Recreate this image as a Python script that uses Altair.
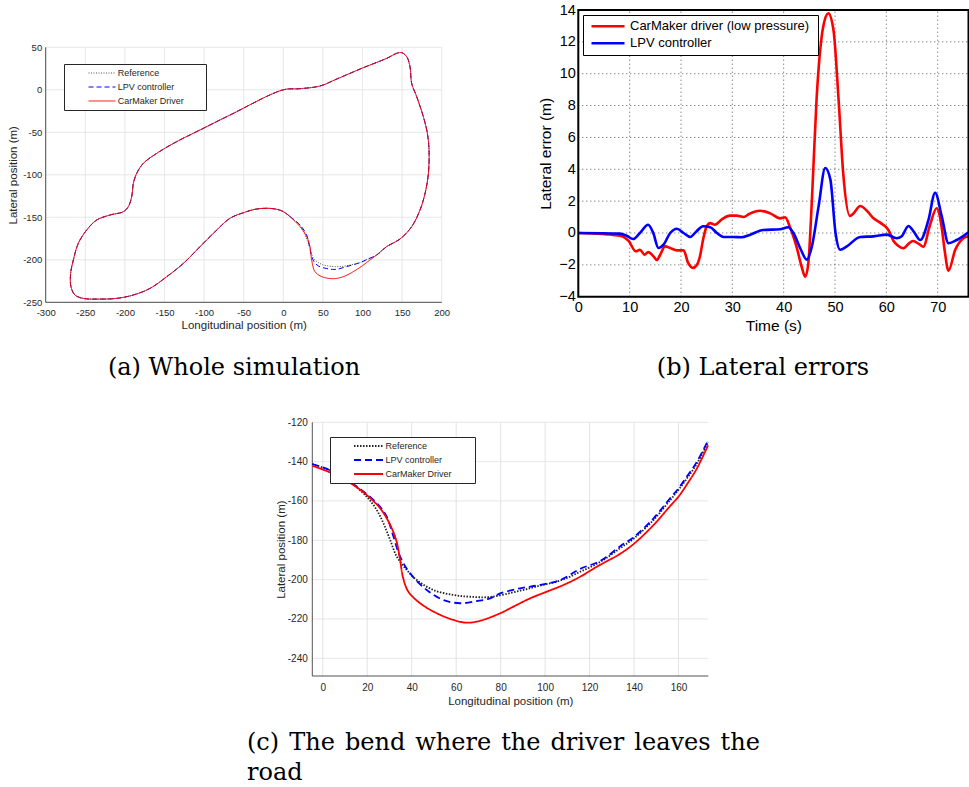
import altair as alt
import pandas as pd

SERIES = ["Reference", "LPV controller", "CarMaker Driver"]

# ---------------- Panel (a): whole simulation ----------------
TRACK_X = [130.5, 147.4, 162.1, 172.6, 179.0, 183.2, 184.0, 181.9, 176.8, 168.4, 162.1, 160.0,
           155.8, 149.5, 143.2, 130.5, 101.0, 67.4, 46.4, 21.0, 0.0, -67.3, -105.2, -134.6,
           -159.9, -176.7, -185.1, -189.3, -191.4, -195.7, -202.0, -218.8, -235.6, -248.3,
           -258.8, -265.1, -268.5, -268.1, -263.0, -252.5, -231.4, -210.4, -189.3, -168.3,
           -147.2, -126.2, -105.2, -88.3, -67.3, -50.0, -35.0, -20.0, -8.4, 0.0]
TRACK_Y = [-184.5, -175.5, -161.0, -141.4, -121.8, -98.3, -70.8, -51.2, -31.6, -8.0, 7.6, 27.0,
           39.0, 43.7, 42.9, 37.0, 26.0, 12.6, 4.5, 1.3, 0.0, -29.7, -47.3, -61.0,
           -74.8, -86.5, -98.3, -110.0, -125.7, -137.5, -143.4, -147.3, -153.2, -165.0,
           -180.6, -200.3, -215.9, -231.6, -241.4, -245.4, -246.2, -245.4, -241.4, -233.6,
           -219.9, -204.2, -184.6, -168.9, -151.2, -144.5, -140.5, -139.4, -140.6, -143.3]

A_REF_X = [8.5, 21.1, 25.3, 31.6, 35.0, 38.0, 43.0, 48.5, 57.0, 67.4, 76.0, 84.2, 96.9, 106.0, 117.9]
A_REF_Y = [-149.2, -159.5, -166.9, -180.6, -191.0, -198.2, -202.5, -205.3, -207.3, -208.1, -207.5, -206.1, -203.3, -199.5, -194.3]
A_LPV_X = [8.5, 21.1, 29.5, 33.0, 35.8, 39.0, 44.3, 54.8, 62.0, 67.4, 80.0, 96.9, 106.0, 117.9]
A_LPV_Y = [-149.2, -159.0, -170.8, -184.0, -196.0, -202.5, -207.3, -210.3, -211.3, -211.2, -208.0, -203.3, -199.5, -194.3]
A_CM_X = [8.5, 21.1, 29.5, 33.7, 35.8, 40.0, 48.5, 63.2, 75.8, 88.5, 101.1, 109.0, 117.9]
A_CM_Y = [-149.2, -161.0, -172.7, -184.5, -200.2, -213.9, -219.8, -222.2, -219.8, -213.9, -206.1, -200.5, -194.3]

# ---------------- Panel (b): lateral errors ----------------
B_CM_T = [0, 3.6, 6.2, 8.5, 9.8, 11.2, 12.0, 12.9, 13.6, 14.6, 15.3, 15.9, 16.9, 17.9, 19.2, 20.5,
          21.4, 22.3, 23.0, 23.7, 24.3, 25.0, 25.7, 26.6, 27.9, 29.5, 30.8, 32.2, 33.3, 35.4, 37.4,
          39.3, 40.3, 41.2, 42.5, 43.5, 44.2, 44.8, 45.5, 46.4, 47.7, 48.7, 49.7, 50.7, 51.6, 52.9,
          53.6, 54.9, 56.2, 57.5, 58.8, 60.4, 61.4, 62.3, 63.3, 64.6, 65.2, 66.4, 67.2, 68.5, 69.8,
          70.8, 71.4, 72.1, 73.4, 75.0, 76.0]
B_CM_E = [0, -0.04, -0.1, -0.2, -0.5, -1.15, -1.05, -1.36, -1.2, -1.45, -1.7, -1.4, -0.84, -0.94, -1.09, -1.09,
          -1.88, -2.19, -2.05, -1.46, -0.42, 0.42, 0.62, 0.52, 0.84, 1.09, 1.09, 1.0, 1.2, 1.4, 1.23,
          0.92, 0.98, 0.39, -0.86, -2.12, -2.75, -1.91, 2.07, 8.35, 12.95, 13.79, 12.74, 8.35, 3.74, 1.07,
          1.23, 1.69, 1.4, 0.92, 0.65, 0.19, -0.5, -0.8, -0.96, -0.6, -0.5, -0.7, -0.86, 0.5, 1.55,
          0.3, -1.2, -2.37, -1.07, -0.33, -0.2]
B_LPV_T = [0, 8.1, 9.4, 10.7, 12.0, 13.6, 14.6, 15.6, 16.6, 17.9, 19.2, 20.5, 21.8, 23.0, 24.3, 25.7,
           27.0, 28.3, 30.2, 31.8, 33.4, 36.0, 39.3, 40.9, 41.9, 43.2, 44.5, 45.5, 46.8, 48.1, 49.1,
           50.1, 51.0, 52.3, 54.9, 57.5, 60.1, 62.0, 63.0, 64.3, 65.3, 66.6, 68.2, 69.5, 70.8, 72.1,
           73.7, 76.0]
B_LPV_E = [0, -0.04, -0.17, -0.38, 0, 0.52, 0, -0.94, -0.73, 0, 0.27, 0, -0.25, 0.1, 0.42, 0.36,
           0, -0.25, -0.25, -0.27, -0.12, 0.19, 0.23, 0.36, 0, -0.94, -1.67, -0.84, 1.67, 4.08, 3.35,
           0, -1.05, -0.84, -0.25, -0.21, -0.1, -0.33, -0.2, 0.44, 0.1, -0.44, 0.82, 2.53, 1.03, -0.64,
           -0.44, 0.05]
B_SERIES = ["CarMaker driver (low pressure)", "LPV controller"]

# ---------------- Panel (c): the bend ----------------
C_REF_X = [-4.7, 5, 12.3, 19.8, 24.3, 27.3, 30.3, 33.3, 37.8, 42.3, 49.8, 58.8, 66.3, 75.3, 88.8, 97.8,
           106.8, 115.8, 124.8, 133.8, 140, 148.8, 156.3, 160, 164, 168.3, 173.3]
C_REF_Y = [-141.2, -145.2, -150.3, -157.9, -164.6, -171.4, -179.8, -188.3, -195.1, -200.2, -205.3,
           -207.8, -208.7, -208.8, -205.6, -203.0, -200.5, -196.0, -191.0, -184.0, -179.0, -169.6,
           -159.5, -154.4, -148.2, -141.0, -130.0]
C_LPV_X = [-4.7, 5, 12.3, 19.8, 25.8, 28.8, 31.8, 34.8, 39.3, 46.8, 54.3, 61.8, 69.3, 75.3, 79.8, 88.8,
           97.8, 106.8, 115.8, 124.8, 133.8, 140, 148.8, 156.3, 160, 164, 168.3, 173.3]
C_LPV_Y = [-141.2, -145.2, -150.3, -156.5, -163.0, -168.0, -178.1, -188.3, -196.8, -205.3, -210.4,
           -212.0, -210.9, -209.5, -207.0, -204.4, -202.7, -200.2, -194.5, -190.5, -183.0, -178.3,
           -168.8, -158.5, -153.6, -147.2, -140.0, -129.2]
C_CM_X = [-4.7, 5, 13.8, 19.8, 25.8, 30.0, 33.0, 34.8, 36, 38.5, 43.8, 51.3, 58.8, 64.8, 70.8, 79.8,
          85.8, 93.3, 100.8, 108.3, 115.8, 123.3, 133.8, 140, 148.8, 156.3, 160, 164, 168.3, 173.3]
C_CM_Y = [-142.1, -146.3, -151.9, -157.0, -163.7, -171.4, -179.8, -190.0, -198.5, -206.1, -212.0,
          -217.1, -220.5, -221.9, -220.9, -217.1, -213.7, -209.5, -206.1, -202.7, -198.5, -193.4,
          -186.8, -181.7, -172.2, -162.5, -157.8, -151.2, -143.4, -131.7]

CAPTION_A = "(a) Whole simulation"
CAPTION_B = "(b) Lateral errors"
CAPTION_C = ["(c) The bend where the driver leaves the", "road"]

W, H = 969, 787
SANS = "Liberation Sans"
GRAY = "#262626"
ONE = pd.DataFrame({"k": [0]})


def long_df(series_dict, xname="x", yname="y"):
    rows = []
    for name, (xs, ys) in series_dict.items():
        for i, (x, y) in enumerate(zip(xs, ys)):
            rows.append({"series": name, xname: x, yname: y, "i": i})
    return pd.DataFrame(rows)


def close_loop(bx, by):
    return bx + TRACK_X + [bx[0]], by + TRACK_Y + [by[0]]


def sc(domain, rng):
    return alt.Scale(domain=domain, range=rng, nice=False, zero=False)


def grid_units(xvals, yvals, xdom, xr, ydom, yr, color, dash, width):
    gx = alt.Chart(pd.DataFrame({"v": xvals})).mark_rule(color=color, strokeWidth=width, strokeDash=dash).encode(
        x=alt.X("v:Q", scale=sc(xdom, xr), axis=None),
        y=alt.Y(datum=ydom[0], scale=sc(ydom, yr), axis=None),
        y2=alt.Y2(datum=ydom[1]),
    )
    gy = alt.Chart(pd.DataFrame({"v": yvals})).mark_rule(color=color, strokeWidth=width, strokeDash=dash).encode(
        y=alt.Y("v:Q", scale=sc(ydom, yr), axis=None),
        x=alt.X(datum=xdom[0], scale=sc(xdom, xr), axis=None),
        x2=alt.X2(datum=xdom[1]),
    )
    return [gx, gy]


def domain_units(xdom, xr, ydom, yr, color, width):
    bottom = alt.Chart(ONE).mark_rule(color=color, strokeWidth=width).encode(
        x=alt.X(datum=xdom[0], scale=sc(xdom, xr), axis=None), x2=alt.X2(datum=xdom[1]),
        y=alt.Y(datum=ydom[0], scale=sc(ydom, yr), axis=None))
    left = alt.Chart(ONE).mark_rule(color=color, strokeWidth=width).encode(
        y=alt.Y(datum=ydom[0], scale=sc(ydom, yr), axis=None), y2=alt.Y2(datum=ydom[1]),
        x=alt.X(datum=xdom[0], scale=sc(xdom, xr), axis=None))
    return [bottom, left]


def sans_axis(orient, offset, values, title, lab_size, title_size, color, lab_pad, title_pad, hyphen=True):
    kw = dict(orient=orient, offset=offset, values=values, title=title, grid=False, ticks=False,
              domain=False, labelFont=SANS, labelFontSize=lab_size, labelColor=color,
              labelPadding=lab_pad, labelFlush=False, labelOverlap=False, labelBound=False,
              titleFont=SANS, titleFontSize=title_size, titleFontWeight="normal", titleColor=color,
              titlePadding=title_pad)
    if hyphen:
        kw["labelExpr"] = "'' + datum.value"
    return alt.Axis(**kw)


def legend(x, y, pad, length, sw, sym_off, lab_off, size, color, row_h, extra_title, extra_size, extra_pad):
    return alt.Legend(orient="none", legendX=x, legendY=y, title=extra_title, titleOrient="right",
                      titleOpacity=0, titleFontSize=extra_size, titleFont=SANS, titlePadding=extra_pad,
                      padding=pad, symbolType="stroke", symbolSize=length * length, symbolStrokeWidth=sw,
                      symbolOffset=sym_off, labelOffset=lab_off, labelFont=SANS, labelFontSize=size,
                      labelColor=color, labelLimit=400, rowPadding=0, clipHeight=row_h,
                      strokeColor=color, fillColor="white")


units = []

# ---------------- Panel (a) ----------------
AXD, AXR = [-300, 200], [45.7, 441.7]
AYD, AYR = [-250, 50], [302.3, 47.3]
units += grid_units(list(range(-300, 201, 50)), list(range(-250, 51, 50)), AXD, AXR, AYD, AYR,
                    "#e3e3e3", [1, 0], 1)
units += domain_units(AXD, AXR, AYD, AYR, GRAY, 0.8)
a_df = long_df({
    "Reference": close_loop(A_REF_X, A_REF_Y),
    "LPV controller": close_loop(A_LPV_X, A_LPV_Y),
    "CarMaker Driver": close_loop(A_CM_X, A_CM_Y),
})
leg_a = legend(64, 64, 2, 27, 1, 22, 1.7, 9, GRAY, 14, "MM", 9, 5)
units.append(alt.Chart(a_df).mark_line(strokeWidth=1, interpolate="catmull-rom").encode(
    x=alt.X("x:Q", scale=sc(AXD, AXR), axis=sans_axis("bottom", AYR[0] - H, list(range(-300, 201, 50)),
                                                     "Longitudinal position (m)", 9.5, 11.5, GRAY, 5, 3)),
    y=alt.Y("y:Q", scale=sc(AYD, AYR), axis=sans_axis("left", -AXR[0], list(range(-250, 51, 50)),
                                                     "Lateral position (m)", 9.5, 11.5, GRAY, 4, 4)),
    color=alt.Color("series:N", scale=alt.Scale(domain=SERIES, range=["#555555", "#0000ff", "#ff0000"]), legend=leg_a),
    strokeDash=alt.StrokeDash("series:N", scale=alt.Scale(domain=SERIES, range=[[1, 1.5], [5, 3], [1, 0]]), legend=leg_a),
    order="i:Q",
))

# ---------------- Panel (b) ----------------
BXD, BXR = [0, 76], [578.3, 968.5]
BYD, BYR = [-4, 14], [296.7, 10]
units += grid_units(list(range(10, 71, 10)), list(range(-2, 13, 2)), BXD, BXR, BYD, BYR,
                    "#555555", [1, 3], 1)
b_df = long_df({"CarMaker driver (low pressure)": (B_CM_T, B_CM_E), "LPV controller": (B_LPV_T, B_LPV_E)}, "t", "e")
leg_b = alt.Legend(orient="none", legendX=583, legendY=15, title="M", titleOrient="right", titleOpacity=0,
                   titleFontSize=6, titlePadding=1, padding=3, symbolType="stroke", symbolSize=33 * 33,
                   symbolStrokeWidth=2.6, symbolOffset=4, labelOffset=4, labelFont=SANS, labelFontSize=13,
                   labelColor="black", labelLimit=400, rowPadding=0, clipHeight=16.5,
                   strokeColor="black", fillColor="white")
units.append(alt.Chart(b_df).mark_line(strokeWidth=2.6, interpolate="monotone").encode(
    x=alt.X("t:Q", scale=sc(BXD, BXR), axis=sans_axis("bottom", BYR[0] - H, list(range(0, 71, 10)),
                                                     "Time (s)", 14.5, 15.5, "black", 4, 4, hyphen=False)),
    y=alt.Y("e:Q", scale=sc(BYD, BYR), axis=sans_axis("left", -BXR[0], list(range(-4, 15, 2)),
                                                     "Lateral error (m)", 14.5, 15.5, "black", 3, 5, hyphen=False)),
    color=alt.Color("series:N", scale=alt.Scale(domain=B_SERIES, range=["#ff0000", "#0000ff"]), legend=leg_b),
    order="i:Q",
))
units.append(alt.Chart(ONE).mark_rect(filled=False, stroke="black", strokeWidth=2).encode(
    x=alt.X(datum=BXD[0], scale=sc(BXD, BXR), axis=None), x2=alt.X2(datum=BXD[1]),
    y=alt.Y(datum=BYD[0], scale=sc(BYD, BYR), axis=None), y2=alt.Y2(datum=BYD[1])))

# ---------------- Panel (c) ----------------
CXD, CXR = [-4.7, 173.4], [312.3, 708.3]
CYD, CYR = [-249, -120], [676, 422.3]
units += grid_units(list(range(0, 161, 20)), list(range(-240, -119, 20)), CXD, CXR, CYD, CYR,
                    "#e3e3e3", [1, 0], 1)
units += domain_units(CXD, CXR, CYD, CYR, GRAY, 0.8)
c_df = long_df({"Reference": (C_REF_X, C_REF_Y), "LPV controller": (C_LPV_X, C_LPV_Y),
                "CarMaker Driver": (C_CM_X, C_CM_Y)})
leg_c = legend(330, 437, 2, 29, 1.8, 21, 1.5, 9, GRAY, 14, "MM", 9, 5.5)
units.append(alt.Chart(c_df).mark_line(strokeWidth=1.8, interpolate="catmull-rom").encode(
    x=alt.X("x:Q", scale=sc(CXD, CXR), axis=sans_axis("bottom", CYR[0] - H, list(range(0, 161, 20)),
                                                     "Longitudinal position (m)", 10, 11.5, GRAY, 6, 3)),
    y=alt.Y("y:Q", scale=sc(CYD, CYR), axis=sans_axis("left", -CXR[0], list(range(-240, -119, 20)),
                                                     "Lateral position (m)", 10, 11.5, GRAY, 5, 1)),
    color=alt.Color("series:N", scale=alt.Scale(domain=SERIES, range=["#222222", "#0000ff", "#ff0000"]), legend=leg_c),
    strokeDash=alt.StrokeDash("series:N", scale=alt.Scale(domain=SERIES, range=[[1.5, 1.5], [7, 4], [1, 0]]), legend=leg_c),
    order="i:Q",
))


# ---------------- captions ----------------
def caption(text, x, y, align):
    return alt.Chart(ONE).mark_text(
        text=text, font="DejaVu Serif", fontSize=24, align=align, baseline="alphabetic",
        color="black", lineHeight=30).encode(x=alt.value(x), y=alt.value(y))


justified_c = [CAPTION_C[0].replace(" ", " \u200a"), CAPTION_C[1]]
units += [caption(CAPTION_A, 234, 375, "center"), caption(CAPTION_B, 763, 375, "center"),
          caption(justified_c, 247, 750, "left")]

chart = alt.layer(*units).resolve_scale(
    x="independent", y="independent", color="independent", strokeDash="independent"
).resolve_axis(x="independent", y="independent").resolve_legend(
    color="independent", strokeDash="independent"
).properties(
    width=W, height=H, padding=0, background="white",
    autosize=alt.AutoSizeParams(type="none"),
).configure_view(strokeWidth=0)

chart.save("out.html", embed_options={"renderer": "svg", "actions": False})
